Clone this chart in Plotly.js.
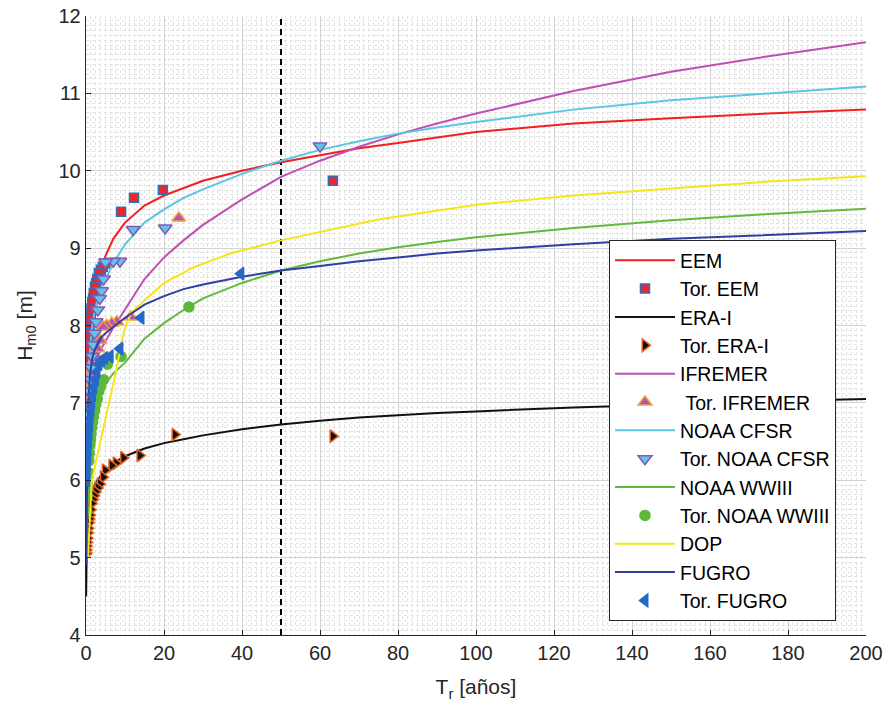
<!DOCTYPE html>
<html>
<head>
<meta charset="utf-8">
<script src="https://cdn.plot.ly/plotly-3.0.1.min.js"></script>
<style>html,body{margin:0;padding:0;background:#fff;}#chart{width:890px;height:710px;}</style>
</head>
<body>
<div id="chart"></div>
<script>
// ---- Return-period grid for fitted curves (years) ----
const tr = [0.08, 0.15, 0.25, 0.4, 0.6, 1, 1.5, 2, 3, 4, 5, 7, 10, 15, 20, 25, 30, 40, 50, 60, 70, 80, 90, 100, 125, 150, 175, 200];

// Fitted curves Hm0 [m]
const hsEEM    = [5.0, 5.9, 6.5, 7.0, 7.4, 7.9, 8.15, 8.35, 8.6, 8.78, 8.9, 9.12, 9.33, 9.55, 9.68, 9.78, 9.87, 10.0, 10.11, 10.2, 10.29, 10.36, 10.43, 10.5, 10.61, 10.68, 10.74, 10.79];
const hsIFREMER= [5.0, 5.6, 6.1, 6.5, 6.85, 7.2, 7.38, 7.5, 7.62, 7.72, 7.8, 7.97, 8.2, 8.6, 8.88, 9.1, 9.3, 9.63, 9.92, 10.13, 10.31, 10.47, 10.61, 10.74, 11.03, 11.28, 11.48, 11.66];
const hsCFSR   = [5.0, 5.8, 6.4, 6.9, 7.25, 7.65, 7.95, 8.12, 8.35, 8.5, 8.6, 8.8, 9.05, 9.33, 9.5, 9.65, 9.76, 9.96, 10.13, 10.27, 10.38, 10.48, 10.56, 10.63, 10.79, 10.91, 11.0, 11.09];
const hsWWIII  = [4.95, 5.2, 5.45, 5.75, 6.05, 6.4, 6.65, 6.8, 7.0, 7.15, 7.25, 7.38, 7.52, 7.83, 8.03, 8.2, 8.35, 8.55, 8.71, 8.83, 8.93, 9.01, 9.08, 9.14, 9.26, 9.36, 9.44, 9.51];
const hsFUGRO  = [4.9, 5.5, 6.1, 6.6, 7.0, 7.35, 7.55, 7.65, 7.77, 7.85, 7.9, 7.98, 8.1, 8.27, 8.38, 8.47, 8.53, 8.63, 8.71, 8.77, 8.83, 8.88, 8.93, 8.97, 9.05, 9.12, 9.17, 9.22];

const trERA = [0.03, 0.08, 0.15, 0.25, 0.4, 0.6, 1, 1.5, 2, 3, 4, 5, 7, 10, 15, 20, 25, 30, 40, 50, 60, 70, 80, 90, 100, 125, 150, 175, 200];
const hsERA = [4.5, 5.0, 5.25, 5.4, 5.52, 5.62, 5.75, 5.85, 5.92, 6.01, 6.07, 6.12, 6.22, 6.31, 6.41, 6.48, 6.53, 6.58, 6.66, 6.72, 6.77, 6.81, 6.84, 6.87, 6.89, 6.94, 6.98, 7.02, 7.05];

const trDOP = [0.5, 1.5, 7.8, 9.6, 11.5, 20, 28, 37, 50, 75, 100, 125, 150, 175, 200];
const hsDOP = [5.0, 6.0, 7.43, 7.9, 8.16, 8.55, 8.76, 8.93, 9.1, 9.37, 9.56, 9.68, 9.77, 9.86, 9.93];

// ---- Storm (empirical) points ----
const torEEM_x = [63.3, 19.7, 12.3, 9.0, 5.0, 4.3, 3.8, 3.3, 2.9, 2.6, 2.3, 2.0, 1.8, 1.6, 1.4, 1.2, 1.05, 0.9, 0.8, 0.7, 0.6, 0.5, 0.42, 0.35, 0.28, 0.22, 0.16, 0.1];
const torEEM_y = [9.87, 9.75, 9.65, 9.47, 8.80, 8.76, 8.72, 8.68, 8.60, 8.55, 8.50, 8.42, 8.35, 8.30, 8.22, 8.15, 8.08, 8.0, 7.95, 7.9, 7.85, 7.78, 7.72, 7.66, 7.6, 7.55, 7.5, 7.45];

const torERA_x = [63.3, 22.8, 13.8, 9.6, 7.7, 6.6, 4.9, 4.4, 3.6, 3.0, 2.5, 2.1, 1.8, 1.5, 1.25, 1.05, 0.9, 0.75, 0.6, 0.5, 0.4, 0.3, 0.22, 0.15, 0.1, 0.05];
const torERA_y = [6.57, 6.59, 6.32, 6.29, 6.22, 6.19, 6.13, 6.04, 5.95, 5.9, 5.85, 5.8, 5.75, 5.7, 5.62, 5.55, 5.5, 5.45, 5.38, 5.32, 5.25, 5.2, 5.15, 5.1, 5.06, 5.05];

const torIFR_x = [23.8, 11.5, 7.9, 6.6, 5.3, 4.4, 3.6, 3.0, 2.6, 2.2, 1.8, 1.5, 1.2, 1.0, 0.8, 0.65, 0.5, 0.4, 0.3, 0.2, 0.12];
const torIFR_y = [9.39, 8.11, 8.05, 8.03, 8.0, 7.98, 7.81, 7.7, 7.6, 7.55, 7.48, 7.42, 7.36, 7.3, 7.25, 7.2, 7.15, 7.1, 7.05, 7.0, 6.95];

const torCFSR_x = [60, 20.3, 12.1, 8.7, 7.0, 5.0, 4.5, 4.0, 3.5, 3.0, 2.6, 2.2, 1.9, 1.6, 1.35, 1.1, 0.9, 0.75, 0.6, 0.5, 0.4, 0.3, 0.22, 0.15, 0.1, 0.06];
const torCFSR_y = [10.32, 9.26, 9.24, 8.83, 8.83, 8.82, 8.6, 8.45, 8.35, 8.2, 8.05, 7.9, 7.75, 7.6, 7.45, 7.3, 7.15, 7.0, 6.85, 6.7, 6.55, 6.4, 6.25, 6.1, 6.0, 5.9];

const torWW_x = [26.4, 9.0, 5.5, 4.5, 3.8, 3.3, 2.9, 2.5, 2.2, 1.9, 1.7, 1.5, 1.3, 1.15, 1.0, 0.85, 0.7, 0.55, 0.4, 0.3, 0.2];
const torWW_y = [8.24, 7.6, 7.5, 7.3, 7.22, 7.15, 7.05, 6.98, 6.9, 6.82, 6.75, 6.68, 6.6, 6.52, 6.45, 6.35, 6.25, 6.1, 5.95, 5.8, 5.6];

const torFUG_x = [39.7, 14.1, 8.7, 6.2, 4.8, 4.0, 3.3, 2.8, 2.4, 2.0, 1.7, 1.45, 1.25, 1.05, 0.9, 0.75, 0.6, 0.5, 0.4, 0.3, 0.22, 0.15];
const torFUG_y = [8.67, 8.1, 7.7, 7.6, 7.58, 7.55, 7.5, 7.4, 7.3, 7.2, 7.1, 7.0, 6.9, 6.8, 6.7, 6.6, 6.5, 6.4, 6.3, 6.2, 6.1, 6.0];

const refTr = [50, 50];
const refHs = [4, 12];

const FONT = 'Liberation Sans, Arial, Helvetica, sans-serif';
let g = 0;
function line(name, x, y, color) {
  return {type: 'scatter', mode: 'lines', name: name, x: x, y: y,
          legendgroup: 'g' + (g++), line: {color: color, width: 2}};
}
function pts(name, x, y, symbol, fill, edge, size) {
  return {type: 'scatter', mode: 'markers', name: name, x: x, y: y,
          legendgroup: 'g' + (g++),
          marker: {symbol: symbol, color: fill, size: size, line: {color: edge, width: 1.5}}};
}

const data = [
  {type: 'scatter', mode: 'lines', x: refTr, y: refHs, showlegend: false, hoverinfo: 'skip',
   line: {color: '#000', width: 2, dash: '6px,4px'}},
  line('EEM', tr, hsEEM, '#f02020'),
  pts('Tor. EEM', torEEM_x, torEEM_y, 'square', '#ee2626', '#2f6fc0', 9),
  line('ERA-I', trERA, hsERA, '#111111'),
  pts('Tor. ERA-I', torERA_x, torERA_y, 'triangle-right', '#111111', '#e8641e', 11),
  line('IFREMER', tr, hsIFREMER, '#bf4fb5'),
  pts('\u00a0Tor. IFREMER', torIFR_x, torIFR_y, 'triangle-up', '#b455b4', '#f2a13a', 12),
  line('NOAA CFSR', tr, hsCFSR, '#5bc6e0'),
  pts('Tor. NOAA CFSR', torCFSR_x, torCFSR_y, 'triangle-down', '#5cc6e6', '#8a56b8', 12),
  line('NOAA WWIII', tr, hsWWIII, '#62ba3c'),
  pts('Tor. NOAA WWIII', torWW_x, torWW_y, 'circle', '#5cb83c', '#5cb83c', 10),
  line('DOP', trDOP, hsDOP, '#f5e61a'),
  line('FUGRO', tr, hsFUGRO, '#2f3fa3'),
  pts('Tor. FUGRO', torFUG_x, torFUG_y, 'triangle-left', '#2469c9', '#2469c9', 11)
];

const axisCommon = {
  ticks: 'inside', ticklen: 5, tickcolor: '#262626', tickwidth: 1,
  showline: true, linecolor: '#262626', linewidth: 1.3, mirror: false,
  showgrid: true, gridcolor: '#d2d2d2', gridwidth: 1, zeroline: false,
  tickfont: {family: FONT, size: 20, color: '#262626'}
};

const layout = {
  width: 890, height: 710,
  margin: {l: 86, r: 24, t: 16, b: 75},
  paper_bgcolor: '#ffffff', plot_bgcolor: '#ffffff',
  font: {family: FONT, color: '#262626'},
  showlegend: true,
  xaxis: Object.assign({}, axisCommon, {
    range: [0, 200], dtick: 20, tick0: 0,
    minor: {dtick: 1.25, tick0: 0, showgrid: true, gridcolor: '#e2e2e2', griddash: 'dot', gridwidth: 1, ticks: ''},
    title: {text: 'T<sub>r</sub> [años]', font: {family: FONT, size: 21, color: '#262626'}, standoff: 16}
  }),
  yaxis: Object.assign({}, axisCommon, {
    range: [4, 12], dtick: 1, tick0: 4,
    minor: {dtick: 0.0625, tick0: 4, showgrid: true, gridcolor: '#e2e2e2', griddash: 'dot', gridwidth: 1, ticks: ''},
    title: {text: 'H<sub>m0</sub> [m]', font: {family: FONT, size: 21, color: '#262626'}, standoff: 20}
  }),
  legend: {
    x: 0.6705, y: 0.638, xanchor: 'left', yanchor: 'top',
    bgcolor: '#ffffff', bordercolor: '#262626', borderwidth: 1,
    font: {family: FONT, size: 19.5, color: '#000'},
    tracegroupgap: 0, itemwidth: 60
  }
};

Plotly.newPlot('chart', data, layout, {displayModeBar: false, staticPlot: true});
</script>
</body>
</html>
